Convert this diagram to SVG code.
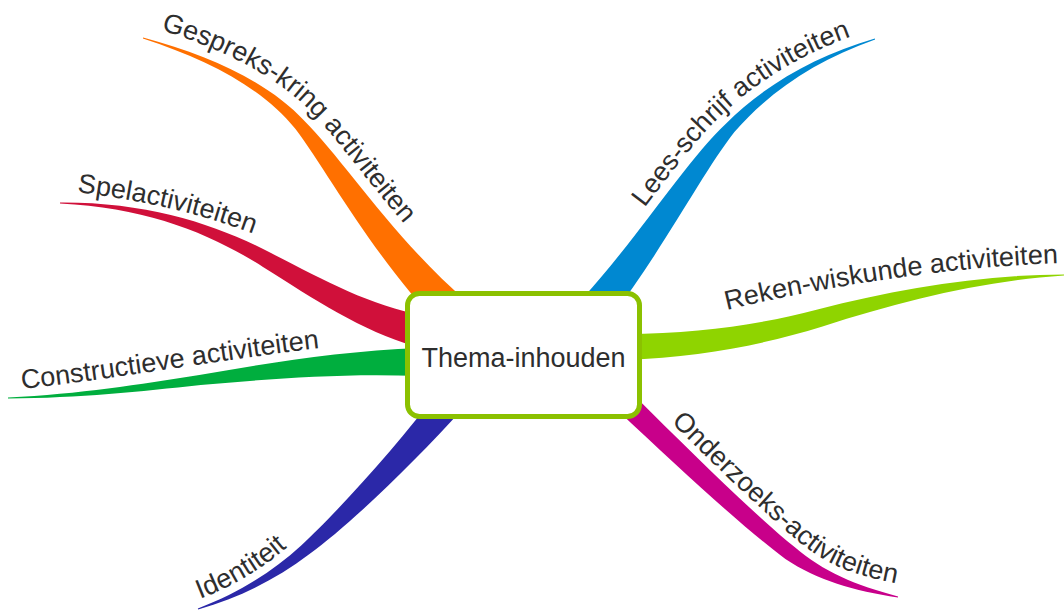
<svg xmlns="http://www.w3.org/2000/svg" width="1064" height="610" viewBox="0 0 1064 610">
<style>
.lbl{font-family:"Liberation Sans",Arial,Helvetica,sans-serif;font-size:27px;fill:#2e2e2e}
.ctr{font-family:"Liberation Sans",Arial,Helvetica,sans-serif;font-size:27px;fill:#2e2e2e;text-anchor:middle}
.node{fill:#ffffff;stroke:#8bc100;stroke-width:5}
</style>
<defs>
<path id="p-gespreks" d="M146.5,26 C214.1,44.3 276.5,75 312.8,113.8 C350,151.8 401.3,232.4 474.1,294.5"/>
<path id="p-lees" d="M575.1,293.2 C632.4,230.2 681,153.1 719,117.8 C755.3,81.1 811.6,47.2 872.1,29.9"/>
<path id="p-spel" d="M77,192 C140,200 200,213 260,236"/>
<path id="p-constr" d="M22,389 C120,378 220,360 320,348"/>
<path id="p-reken" d="M727,310 C830,285 950,267 1060,263"/>
<path id="p-ident" d="M195.3,600.9 C236.8,585.2 267.2,565.7 296.1,539.3 L320,517"/>
<path id="p-onder" d="M637.6,389.1 C701.7,453 759.6,509.6 798.9,541.6 C827.5,566.4 857,576 900,584"/>
</defs>
<rect width="1064" height="610" fill="#ffffff"/>
<g id="connectors">
<path fill="#ff7000" d="M143.1,37.5 C210.7,55.8 268.2,82.2 304.5,121 C342.5,158.4 394.5,239.7 467.3,301.8 L442.7,328.2 C375.5,260.3 327.5,171.6 295.5,129 C261.8,87.8 209.3,60.2 142.9,38.5 Z"/>
<path fill="#0088d1" d="M875.15,39.5 C815.7,60.2 768.1,92.8 734.4,132.1 C702.4,172.8 660.7,254 608,321 L582,299 C639.3,236 687.6,159.2 725.6,123.9 C761.9,87.2 814.3,55.8 874.85,38.5 Z"/>
<path fill="#d0103a" d="M60,202.5 C150.1,202 217.75,225.2 271,253.1 C325.35,280.7 368.9,305.3 424.7,315.7 L415.3,346.3 C361.1,330.7 314.65,299.3 263,266.9 C212.25,234.8 149.9,208 60,203.5 Z"/>
<path fill="#00ae3e" d="M8,397.5 C79.9,394 139.5,384.5 199.3,375 C268.9,363.1 340,351 420,348 L420,376 C340,373 271.1,378.9 200.7,385 C140.5,391.5 80.1,398 8,398.5 Z"/>
<path fill="#8fd400" d="M1064,275.5 C980.1,281.3 901.7,301 822.5,326.6 C762.8,344.9 700.3,357 625.35,360 L624.65,334 C699.7,333.3 757.2,325.1 817.5,309.4 C898.3,289 979.9,274.7 1064,274.5 Z"/>
<path fill="#2b28a8" d="M197.84,608.53 C239.3,592.8 272.3,571.8 301.2,545.4 C339.2,510.1 395.8,447.4 440.4,388.5 L463.6,407.5 C414.3,462.6 350.8,523.9 308.8,554.6 C277.7,578.2 240.7,597.2 198.16,609.47 Z"/>
<path fill="#c8008a" d="M897.9,597.5 C854.4,590.7 816.8,580.1 785.4,558.9 C744.7,528.9 683.2,472 617.3,409.9 L632.7,394.1 C696.8,458 755.3,515.1 794.6,547.1 C823.2,571.9 855.6,585.3 898.1,596.5 Z"/>
</g>
<g id="node-center">
<rect class="node" x="407.5" y="293.5" width="232" height="123" rx="12" ry="12"/>
<text class="ctr" x="523.5" y="367">Thema-inhouden</text>
</g>
<g id="node-gespreks"><text class="lbl"><textPath href="#p-gespreks" startOffset="15">Gespreks-kring activiteiten</textPath></text></g>
<g id="node-lees"><text class="lbl"><textPath href="#p-lees" startOffset="110">Lees-schrijf activiteiten</textPath></text></g>
<g id="node-spel"><text class="lbl"><textPath href="#p-spel">Spelactiviteiten</textPath></text></g>
<g id="node-constr"><text class="lbl"><textPath href="#p-constr">Constructieve activiteiten</textPath></text></g>
<g id="node-reken"><text class="lbl"><textPath href="#p-reken">Reken-wiskunde activiteiten</textPath></text></g>
<g id="node-ident"><text class="lbl"><textPath href="#p-ident" startOffset="5">Identiteit</textPath></text></g>
<g id="node-onder"><text class="lbl"><textPath href="#p-onder" startOffset="47">Onderzoeks-activiteiten</textPath></text></g>
</svg>
